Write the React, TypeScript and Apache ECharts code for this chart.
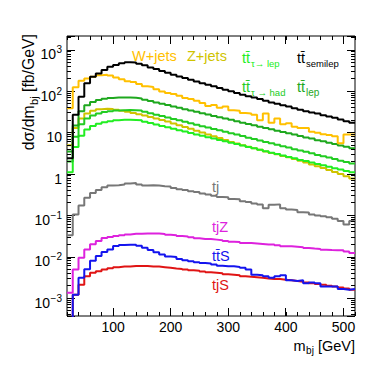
import React, { useEffect, useRef } from "react";
import * as echarts from "echarts";

// Bin edges in GeV (50 bins of 10 GeV, 20 to 520)
const binEdges = [
  20, 30, 40, 50, 60, 70, 80, 90, 100, 110, 120, 130, 140, 150, 160, 170, 180,
  190, 200, 210, 220, 230, 240, 250, 260, 270, 280, 290, 300, 310, 320, 330,
  340, 350, 360, 370, 380, 390, 400, 410, 420, 430, 440, 450, 460, 470, 480,
  490, 500, 510, 520,
];

const xTickLabels = [100, 200, 300, 400, 500];

// dσ/dm_bj [fb/GeV] per bin
const ttSemilep = [
  2.4, 27, 74, 156, 226, 272, 328, 395, 434, 475, 503, 500, 468, 427, 380, 347,
  309, 282, 251, 229, 209, 191, 174, 158, 145, 132, 120, 110, 100, 91, 83, 76,
  71, 65, 59, 54, 50, 46, 43, 39, 36, 33, 31, 29, 26.5, 24.5, 23, 21, 19, 17.5,
];
const wJets = [
  39, 125, 180, 205, 225, 245, 252, 242, 215, 195, 175, 168, 150, 133, 128, 112,
  99, 91, 86, 78, 69, 65, 59, 52, 44, 47, 40, 43, 35, 34, 30, 29, 27, 20, 29,
  17.5, 22, 16, 17, 14, 13, 13, 10.5, 10, 9.2, 8.8, 8.2, 5.6, 9, 9,
];
const zJets = [
  5, 13, 22, 29, 34, 37, 38, 37.5, 36, 34, 32, 30, 28, 26, 24, 22, 20.3, 18.6,
  16.8, 15.2, 13.7, 12.4, 11.2, 10.1, 9.1, 8.2, 7.4, 6.7, 6, 5.5, 5, 4.6, 4.2,
  3.85, 3.5, 3.25, 3, 2.75, 2.55, 2.3, 2.1, 1.9, 1.7, 1.55, 1.4, 1.25, 1.12, 1,
  0.88, 0.78,
];
const ttLep = [
  3.5, 15, 33, 46, 55, 62, 66, 69, 71, 71.5, 71, 70, 67.5, 63, 58.5, 54, 50,
  46.5, 43, 40, 37, 34.5, 32, 29.5, 27.5, 25.5, 23.5, 22, 20.5, 19, 17.5, 16.3,
  15.1, 14, 13, 12.1, 11.2, 10.4, 9.7, 9, 8.3, 7.7, 7.2, 6.6, 6.2, 5.7, 5.3,
  4.9, 4.6, 4.2,
];
const ttTauHad = [
  2, 8, 16, 22, 26, 29, 31.5, 33, 34.5, 35, 35.5, 35, 34.5, 32, 29.6, 27.3,
  25.2, 23.3, 21.5, 19.9, 18.3, 16.9, 15.6, 14.4, 13.3, 12.3, 11.4, 10.5, 9.7,
  9, 8.3, 7.6, 7.05, 6.5, 6, 5.55, 5.1, 4.7, 4.4, 4, 3.7, 3.45, 3.2, 2.9, 2.7,
  2.5, 2.3, 2.1, 1.97, 1.8,
];
const ttTauLep = [
  1.1, 4.5, 8.5, 12, 14.5, 16.5, 18, 19, 20, 20.5, 20.5, 20.3, 20, 18.5, 17.1,
  15.8, 14.6, 13.5, 12.5, 11.5, 10.7, 9.9, 9.1, 8.4, 7.8, 7.2, 6.7, 6.2, 5.7,
  5.3, 4.9, 4.5, 4.2, 3.85, 3.55, 3.3, 3.05, 2.8, 2.6, 2.4, 2.2, 2.06, 1.9,
  1.76, 1.63, 1.5, 1.39, 1.29, 1.19, 1.1,
];
const tj = [
  0.033, 0.105, 0.174, 0.266, 0.35, 0.41, 0.48, 0.53, 0.54, 0.56, 0.59, 0.61,
  0.56, 0.53, 0.54, 0.53, 0.51, 0.5, 0.46, 0.43, 0.41, 0.385, 0.37, 0.34, 0.32,
  0.3, 0.28, 0.275, 0.25, 0.245, 0.22, 0.21, 0.195, 0.185, 0.15, 0.18, 0.185,
  0.15, 0.139, 0.135, 0.12, 0.117, 0.105, 0.1, 0.096, 0.09, 0.083, 0.073, 0.06,
  0.073,
];
const tjZ = [
  0.00135, 0.0049, 0.0095, 0.015, 0.02, 0.024, 0.0285, 0.03, 0.0316, 0.033,
  0.0347, 0.036, 0.036, 0.0365, 0.0365, 0.0365, 0.0355, 0.034, 0.033, 0.0316,
  0.031, 0.0297, 0.028, 0.027, 0.027, 0.026, 0.025, 0.024, 0.023, 0.0228,
  0.0215, 0.0215, 0.021, 0.0205, 0.0199, 0.0199, 0.019, 0.018, 0.018, 0.0175,
  0.017, 0.0163, 0.0158, 0.0155, 0.0148, 0.0145, 0.0143, 0.0143, 0.0135,
  0.0123,
];
const ttS = [
  0.0002, 0.0012, 0.0031, 0.005, 0.008, 0.0105, 0.013, 0.015, 0.0182, 0.0192,
  0.0195, 0.0195, 0.0185, 0.0165, 0.0145, 0.0128, 0.0113, 0.0102, 0.0099,
  0.0089, 0.0083, 0.0078, 0.0074, 0.0071, 0.0069, 0.0065, 0.0061, 0.0059,
  0.0059, 0.0057, 0.0054, 0.0049, 0.0037, 0.0036, 0.0034, 0.0031, 0.0034,
  0.0036, 0.0027, 0.0026, 0.0027, 0.0023, 0.0024, 0.0023, 0.0019, 0.0019,
  0.0019, 0.00166, 0.0016, 0.00166,
];
const tjS = [
  0.0003, 0.0012, 0.0021, 0.0034, 0.0041, 0.0045, 0.0049, 0.0053, 0.0056,
  0.0058, 0.0058, 0.006, 0.006, 0.006, 0.0058, 0.0058, 0.0056, 0.0054, 0.0052,
  0.0051, 0.0049, 0.0047, 0.0046, 0.0044, 0.0042, 0.0041, 0.004, 0.0038,
  0.0037, 0.0036, 0.0034, 0.0033, 0.0032, 0.0031, 0.003, 0.0029, 0.0029,
  0.0028, 0.0027, 0.0026, 0.0025, 0.0024, 0.0023, 0.0022, 0.0021, 0.002,
  0.0019, 0.0018, 0.0017, 0.0016,
];

const C = {
  w: "#ffc000",
  z: "#cfc300",
  tauLep: "#22ee22",
  tauHad: "#22cc22",
  lep: "#1ea81e",
  semilep: "#000000",
  tj: "#777777",
  tjZ: "#dd22dd",
  ttS: "#1414ee",
  tjS: "#e01414",
};

const FONT = '"Liberation Sans", Arial, Helvetica, sans-serif';
const X_MIN = 20;
const X_MAX = 520;
const Y_MIN = 3.7e-4;
const Y_MAX = 2180;

function hist(vals: number[]) {
  return binEdges.map((x, i) => [x, vals[Math.min(i, vals.length - 1)]]);
}

const minorY: number[] = [];
for (let e = -4; e <= 3; e++) {
  for (let m = 2; m <= 9; m++) {
    const v = m * Math.pow(10, e);
    if (v > Y_MIN && v < Y_MAX) minorY.push(v);
  }
}

function subLabel(main: string, sub: string, color: string, x: number, yCenter: number, subSize = 9.5) {
  return {
    type: "text",
    x,
    y: yCenter - 7,
    z: 100,
    style: {
      text: `{a|${main}}{s|${sub}}`,
      align: "left",
      verticalAlign: "top",
      rich: {
        a: { fontSize: 14.5, lineHeight: 14, fontFamily: FONT, fill: color, verticalAlign: "top" },
        s: { fontSize: subSize, lineHeight: 10, fontFamily: FONT, fill: color, verticalAlign: "top", padding: [8, 0, 0, 1] },
      },
    },
  };
}

function plainLabel(text: string, color: string, x: number, yCenter: number) {
  return {
    type: "text",
    x,
    y: yCenter,
    z: 100,
    style: { text, fill: color, fontSize: 14.5, fontFamily: FONT, align: "left", verticalAlign: "middle" },
  };
}

export default function App() {
  const ref = useRef<HTMLDivElement>(null);
  useEffect(() => {
    if (!ref.current) return;
    const chart = echarts.init(ref.current, null, { renderer: "svg" });

    const mkLine = (name: string, vals: number[], color: string) => ({
      name,
      type: "line",
      step: "end",
      data: hist(vals),
      symbol: "none",
      showSymbol: false,
      clip: true,
      lineStyle: { color, width: 2 },
      itemStyle: { color },
      emphasis: { disabled: true },
      silent: true,
    });

    const yLabelFormatter = (v: number) => {
      const l = Math.log10(v);
      const e = Math.round(l);
      if (Math.abs(l - e) > 1e-6) return "";
      if (e === 0) return "{b|1}";
      if (e === 1) return "{b|10}";
      const s = e < 0 ? "\u2212" + -e : String(e);
      return "{b|10}{s|" + s + "}";
    };

    const option: any = {
      animation: false,
      backgroundColor: "#ffffff",
      grid: {
        left: 67,
        right: 19,
        top: 36,
        bottom: 51,
        show: true,
        borderColor: "#000",
        borderWidth: 1,
        backgroundColor: "transparent",
      },
      xAxis: [
        {
          type: "value",
          min: X_MIN,
          max: X_MAX,
          interval: 20,
          position: "bottom",
          axisLine: { show: false },
          splitLine: { show: false },
          axisTick: { show: true, inside: true, length: 4, lineStyle: { color: "#000", width: 1 } },
          axisLabel: {
            margin: 4,
            color: "#000",
            fontFamily: FONT,
            fontSize: 14,
            formatter: (v: number) => (xTickLabels.indexOf(v) >= 0 ? String(v) : ""),
          },
        },
        {
          type: "value",
          min: X_MIN,
          max: X_MAX,
          interval: 20,
          position: "top",
          axisLine: { show: false },
          splitLine: { show: false },
          axisTick: { show: true, inside: true, length: 4, lineStyle: { color: "#000", width: 1 } },
          axisLabel: { show: false },
        },
      ],
      yAxis: [
        {
          type: "log",
          logBase: 10,
          min: Y_MIN,
          max: Y_MAX,
          position: "left",
          axisLine: { show: false },
          splitLine: { show: false },
          axisTick: { show: true, inside: true, length: 8, lineStyle: { color: "#000", width: 1 } },
          axisLabel: {
            margin: 5,
            color: "#000",
            formatter: yLabelFormatter,
            rich: {
              b: { fontSize: 14, lineHeight: 14, fontFamily: FONT, color: "#000", verticalAlign: "top", padding: [4.5, 0, 4.5, 0] },
              s: { fontSize: 10, lineHeight: 10, fontFamily: FONT, color: "#000", verticalAlign: "top", padding: [2, 0, 0, 0.5] },
            },
          },
        },
        {
          type: "log",
          logBase: 10,
          min: Y_MIN,
          max: Y_MAX,
          position: "right",
          axisLine: { show: false },
          splitLine: { show: false },
          axisTick: { show: true, inside: true, length: 8, lineStyle: { color: "#000", width: 1 } },
          axisLabel: { show: false },
        },
      ],
      series: [
        mkLine("tjS", tjS, C.tjS),
        mkLine("ttS", ttS, C.ttS),
        mkLine("tjZ", tjZ, C.tjZ),
        mkLine("tj", tj, C.tj),
        mkLine("Z+jets", zJets, C.z),
        mkLine("tt tau->lep", ttTauLep, C.tauLep),
        mkLine("tt tau->had", ttTauHad, C.tauHad),
        mkLine("tt lep", ttLep, C.lep),
        mkLine("W+jets", wJets, C.w),
        mkLine("tt semilep", ttSemilep, C.semilep),
        {
          type: "custom",
          coordinateSystem: "cartesian2d",
          xAxisIndex: 0,
          yAxisIndex: 0,
          silent: true,
          clip: false,
          z: 5,
          data: minorY.map((v) => [X_MIN, v]),
          renderItem: (params: any, api: any) => {
            const y = Math.round(api.coord([X_MIN, api.value(1)])[1] - 0.5) + 0.5;
            const cs = params.coordSys;
            return {
              type: "group",
              children: [
                { type: "line", shape: { x1: cs.x, y1: y, x2: cs.x + 4, y2: y }, style: { stroke: "#000", lineWidth: 1 } },
                { type: "line", shape: { x1: cs.x + cs.width - 4, y1: y, x2: cs.x + cs.width, y2: y }, style: { stroke: "#000", lineWidth: 1 } },
              ],
            };
          },
        },
        {
          type: "custom",
          coordinateSystem: "cartesian2d",
          xAxisIndex: 0,
          yAxisIndex: 0,
          silent: true,
          clip: false,
          z: 5,
          data: xTickLabels.map((v) => [v, 1]),
          renderItem: (params: any, api: any) => {
            const x = Math.round(api.coord([api.value(0), 1])[0] - 0.5) + 0.5;
            const cs = params.coordSys;
            return {
              type: "group",
              children: [
                { type: "line", shape: { x1: x, y1: cs.y + cs.height, x2: x, y2: cs.y + cs.height - 8 }, style: { stroke: "#000", lineWidth: 1 } },
                { type: "line", shape: { x1: x, y1: cs.y, x2: x, y2: cs.y + 8 }, style: { stroke: "#000", lineWidth: 1 } },
              ],
            };
          },
        },
      ],
      graphic: [
        plainLabel("W+jets", C.w, 132, 56),
        plainLabel("Z+jets", C.z, 187, 56),
        subLabel("tt\u0304", "\u03c4\u2192 lep", C.tauLep, 242, 57),
        subLabel("tt\u0304", "semilep", C.semilep, 297, 57),
        subLabel("tt\u0304", "\u03c4 \u2192 had", C.tauHad, 242, 86),
        subLabel("tt\u0304", "lep", C.lep, 297, 86, 10),
        plainLabel("tj", C.tj, 212, 187),
        plainLabel("tjZ", C.tjZ, 212, 227),
        plainLabel("tt\u0304S", C.ttS, 212, 256),
        plainLabel("tjS", C.tjS, 212, 285),
        {
          type: "text",
          x: 355,
          y: 338,
          z: 100,
          style: {
            text: "{a|m}{s|bj}{a| [GeV]}",
            align: "right",
            verticalAlign: "top",
            rich: {
              a: { fontSize: 14.5, lineHeight: 14, fontFamily: FONT, fill: "#000", verticalAlign: "top" },
              s: { fontSize: 10, lineHeight: 10, fontFamily: FONT, fill: "#000", verticalAlign: "top", padding: [7, 0, 0, 0.5] },
            },
          },
        },
        {
          type: "text",
          x: 20.5,
          y: 34,
          rotation: Math.PI / 2,
          z: 100,
          style: {
            text: "{a|d\u03c3/dm}{s|bj}{a| [fb/GeV]}",
            align: "right",
            verticalAlign: "top",
            rich: {
              a: { fontSize: 15.8, lineHeight: 16, fontFamily: FONT, fill: "#000", verticalAlign: "top" },
              s: { fontSize: 11, lineHeight: 11, fontFamily: FONT, fill: "#000", verticalAlign: "top", padding: [8, 0, 0, 0.5] },
            },
          },
        },
      ],
    };

    chart.setOption(option);
    return () => chart.dispose();
  }, []);

  return (
    <div
      ref={ref}
      style={{ position: "fixed", left: 0, top: 0, width: 374, height: 367, background: "#fff" }}
    />
  );
}
